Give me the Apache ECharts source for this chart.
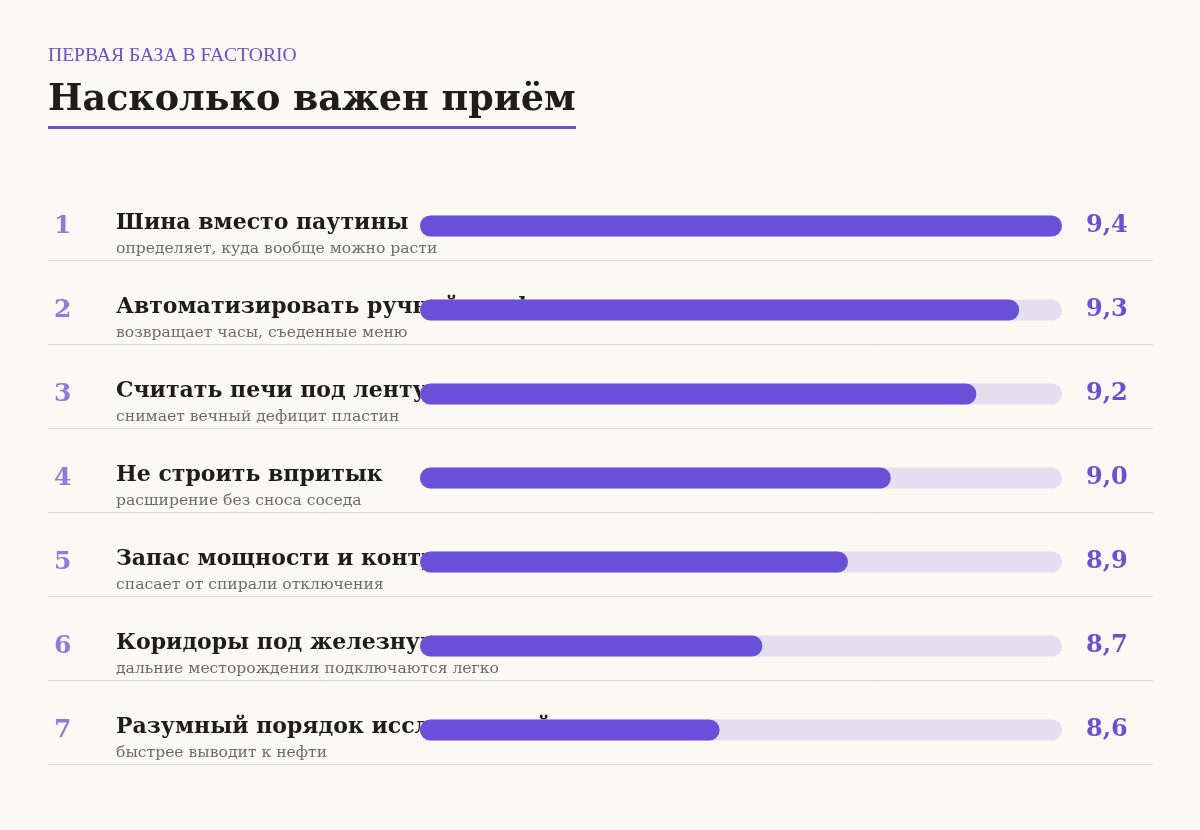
<!DOCTYPE html>
<html>
<head>
<meta charset="utf-8">
<script src="https://cdn.jsdelivr.net/npm/echarts@6/dist/echarts.min.js"></script>
<style>
    html, body { margin: 0; padding: 0; background: #faf9f3; }
    #chart { width: 1200px; height: 830px; }
</style>
</head>
<body>
<div id="chart"></div>
<script>
// Data
var ranks = ['1', '2', '3', '4', '5', '6', '7'];
var titles = [
    'Шина вместо паутины',
    'Автоматизировать ручной крафт',
    'Считать печи под ленту',
    'Не строить впритык',
    'Запас мощности и контроль',
    'Коридоры под железную дорогу',
    'Разумный порядок исследований'
];
var notes = [
    'определяет, куда вообще можно расти',
    'возвращает часы, съеденные меню',
    'снимает вечный дефицит пластин',
    'расширение без сноса соседа',
    'спасает от спирали отключения',
    'дальние месторождения подключаются легко',
    'быстрее выводит к нефти'
];
var scores = [9.4, 9.3, 9.2, 9.0, 8.9, 8.7, 8.6];

var BG = '#faf9f3';
var PURPLE = '#6a4fd8';
var SERIF = '"DejaVu Serif", Georgia, serif';

var chartTitle = 'Насколько важен приём';
var titleFont = 'bold 36.5px "DejaVu Serif"';

// width of the title for the underline
var measure = document.createElement('canvas').getContext('2d');
measure.font = titleFont;
var titleWidth = Math.round(measure.measureText(chartTitle).width);

var chart = echarts.init(document.getElementById('chart'));

chart.setOption({
    backgroundColor: BG,
    animation: false,

    title: [{
        text: 'ПЕРВАЯ БАЗА В FACTORIO',
        left: 48,
        top: 46,
        padding: 0,
        textStyle: {
            fontFamily: '"Liberation Serif", serif',
            fontSize: 19.6,
            fontWeight: 'normal',
            color: PURPLE
        }
    }, {
        text: chartTitle,
        left: 48,
        top: 82,
        padding: 0,
        textStyle: {
            fontFamily: '"DejaVu Serif", serif',
            fontSize: 36.5,
            fontWeight: 'bold',
            color: '#1f1d1a'
        }
    }],

    graphic: [{
        type: 'rect',
        left: 48,
        top: 126,
        shape: { width: titleWidth, height: 3 },
        style: { fill: PURPLE }
    }],

    grid: [
        { left: 420, right: 138, top: 184, height: 588 },
        { left: 48, right: 47, top: 260, height: 504 }
    ],

    xAxis: [
        { gridIndex: 0, type: 'value', min: 7.9, max: 9.4, show: false },
        { gridIndex: 1, type: 'value', min: 0, max: 1, show: false }
    ],

    yAxis: [{
        gridIndex: 0,
        type: 'category',
        inverse: true,
        data: titles,
        axisLine: { show: false },
        axisTick: { show: false },
        axisLabel: {
            align: 'left',
            margin: 366,
            padding: [18, 0, 0, 0],
            formatter: function (v, i) {
                return '{r|' + ranks[i] + '}{t|' + v + '}\n{p| }{s|' + notes[i] + '}';
            },
            rich: {
                r: {
                    width: 62,
                    fontFamily: SERIF,
                    fontSize: 25,
                    fontWeight: 'bold',
                    color: '#8c7ce0',
                    lineHeight: 28,
                    padding: [6, 0, 0, 0]
                },
                t: {
                    fontFamily: SERIF,
                    fontSize: 22,
                    fontWeight: 'bold',
                    color: '#1f1d1a',
                    lineHeight: 28
                },
                p: { width: 62, fontSize: 15, lineHeight: 24 },
                s: {
                    fontFamily: SERIF,
                    fontSize: 15.6,
                    color: '#6e6c68',
                    lineHeight: 24
                }
            }
        }
    }, {
        gridIndex: 0,
        type: 'category',
        inverse: true,
        position: 'right',
        data: scores.map(function (v) { return v.toFixed(1).replace('.', ','); }),
        axisLine: { show: false },
        axisTick: { show: false },
        axisLabel: {
            align: 'left',
            margin: 24,
            fontFamily: SERIF,
            fontSize: 24,
            fontWeight: 'bold',
            color: PURPLE
        }
    }, {
        // row separators
        gridIndex: 1,
        type: 'value',
        min: 1,
        max: 7,
        interval: 1,
        axisLine: { show: false },
        axisTick: { show: false },
        axisLabel: { show: false },
        splitLine: { show: true, lineStyle: { color: '#dcdad2', width: 1 } }
    }],

    series: [{
        type: 'bar',
        xAxisIndex: 0,
        yAxisIndex: 0,
        data: scores,
        barWidth: 21,
        showBackground: true,
        backgroundStyle: { color: '#e3dff1', borderRadius: 10.5 },
        itemStyle: {
            color: PURPLE,
            borderRadius: 10.5
        }
    }]
});
</script>
</body>
</html>
